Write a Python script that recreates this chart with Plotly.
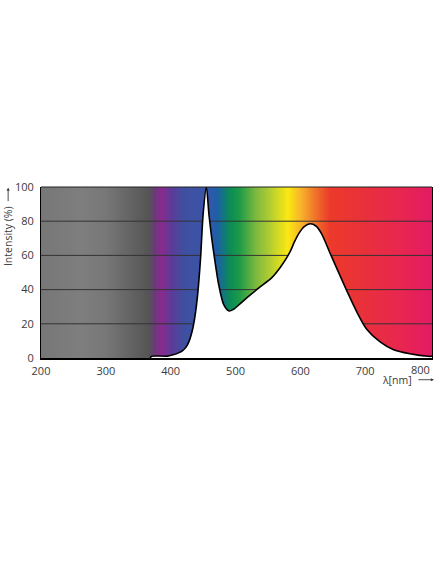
import plotly.graph_objects as go
import numpy as np

# --- data -------------------------------------------------------------
wavelength = [369, 370, 395, 405, 412, 418, 424, 428, 432, 436, 441, 446, 450, 455,
              459, 463, 467, 474, 482, 490, 497, 505, 520, 536, 556, 570, 584, 591,
              598, 606, 615, 624, 633, 645, 656, 672, 687, 702, 723, 743, 769, 797, 803]
intensity = [0, 1, 1.1, 2, 3, 4.2, 6.5, 9.4, 14, 21, 35, 58, 84, 100,
             84, 71, 60, 43, 31, 27.5, 28.5, 31, 36, 41, 47, 53.5, 62, 68,
             73, 76.8, 78.5, 77.2, 72.5, 62, 52.6, 39, 27, 17, 9.4, 5, 2.5, 1, 1]

x_ticks = [200, 300, 400, 500, 600, 700]
y_ticks = [0, 20, 40, 60, 80, 100]
grid_levels = [20, 40, 60, 80]

x_min, x_max = 200, 803

# spectrum background colour stops (nm, colour)
spectrum_nm = [200, 260, 300, 340, 365, 375, 385, 400, 420, 455, 470, 490, 505,
               530, 555, 580, 600, 620, 645, 700, 760, 803]
spectrum_col = ["#777777", "#7e7e7e", "#777777", "#626262", "#555555", "#6a3a78",
                "#8a2a8e", "#5e3a98", "#3f4fa0", "#3a55a8", "#1f5ea8", "#0b8a5a",
                "#1a9a48", "#7ab840", "#b8d030", "#fbe812", "#f7b52a", "#f07a2a",
                "#ec3a2a", "#e8303c", "#e82552", "#e31a64"]

# --- figure -----------------------------------------------------------
colorscale = [[(n - x_min) / (x_max - x_min), c] for n, c in zip(spectrum_nm, spectrum_col)]
edges = np.arange(x_min, x_max + 1, 1.0)
centers = (edges[:-1] + edges[1:]) / 2

fig = go.Figure()
fig.add_trace(go.Heatmap(
    x=edges, y=[0, 100], z=[centers.tolist()],
    colorscale=colorscale, zmin=x_min, zmax=x_max,
    showscale=False, hoverinfo="skip", zsmooth="best"))

for g in grid_levels:
    fig.add_trace(go.Scatter(x=[x_min, x_max], y=[g, g], mode="lines",
                             line=dict(color="#333333", width=1),
                             hoverinfo="skip", showlegend=False))

fig.add_trace(go.Scatter(
    x=wavelength, y=intensity, mode="lines", fill="tozeroy",
    fillcolor="white", line=dict(color="black", width=1.6, shape="spline", smoothing=0.8),
    showlegend=False, hoverinfo="skip"))

family = "Open Sans, Liberation Sans, sans-serif"
font = dict(family=family, size=11, color="#3a3a3a")
title_font = dict(family=family, size=10.5, color="#3a3a3a")

fig.update_layout(
    width=435, height=569,
    margin=dict(l=41, r=3, t=187, b=211, autoexpand=False),
    paper_bgcolor="white", plot_bgcolor="white",
    font=font, showlegend=False,
    xaxis=dict(range=[x_min, x_max], tickvals=x_ticks, showgrid=False, zeroline=False,
               showline=True, linecolor="black", linewidth=2, ticks="",
               ticklabelstandoff=2, fixedrange=True),
    yaxis=dict(range=[0, 100], tickvals=y_ticks, showgrid=False, zeroline=False,
               showline=True, linecolor="black", linewidth=1, mirror=True, ticks="",
               ticklabelstandoff=4, fixedrange=True),
    shapes=[dict(type="line", xref="paper", yref="paper", x0=0, x1=1, y0=1, y1=1,
                 line=dict(color="#222222", width=1), layer="above")],
    annotations=[
        dict(text="800", x=800, y=0, xref="x", yref="paper", xanchor="right",
             yanchor="top", yshift=-2, xshift=2, showarrow=False, font=font),
        dict(text="Intensity (%)", x=-0.084, y=0.714, xref="paper", yref="paper",
             textangle=-90, showarrow=False, font=title_font,
             xanchor="center", yanchor="middle"),
        dict(text="", x=-0.084, y=0.996, xref="paper", yref="paper",
             showarrow=True, ax=0, ay=15, arrowhead=2, arrowsize=0.7,
             arrowwidth=0.9, arrowcolor="#3a3a3a"),
        dict(text="λ[nm]", x=0.866, y=-0.127, xref="paper", yref="paper",
             xanchor="left", yanchor="middle", showarrow=False, font=title_font),
        dict(text="", x=1.005, y=-0.127, xref="paper", yref="paper",
             showarrow=True, ax=-17, ay=0, arrowhead=2, arrowsize=0.7,
             arrowwidth=0.9, arrowcolor="#3a3a3a"),
    ],
)
fig.write_html("out.html", config={"displayModeBar": False},
               post_script="document.body.style.margin='0';document.body.style.overflow='hidden';")
